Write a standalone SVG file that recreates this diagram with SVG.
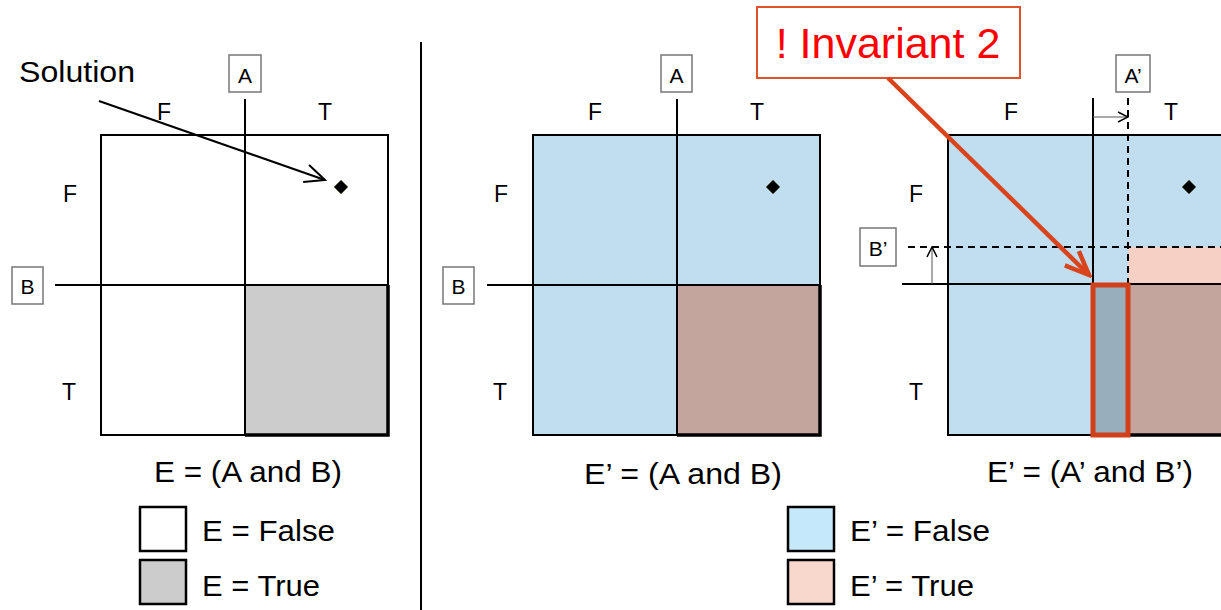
<svg xmlns="http://www.w3.org/2000/svg" width="1221" height="610" viewBox="0 0 1221 610">
<style>
text{font-family:"Liberation Sans",Arial,sans-serif;fill:#000}
.lab{font-size:23px;text-anchor:middle}
.box{font-size:21px;text-anchor:middle}
.cap{font-size:30px}
.leg{font-size:29px}
.ln{stroke:#000;stroke-width:2}
.dash{stroke:#000;stroke-width:2;fill:none;stroke-dasharray:7,5}
.vbox{fill:#fff;stroke:#777;stroke-width:1.5}
.thick{stroke:#000;stroke-width:3.5;fill:none}
</style>
<defs>
<marker id="open" viewBox="0 0 12 12" refX="11" refY="6" markerWidth="12" markerHeight="12" markerUnits="userSpaceOnUse" orient="auto"><path d="M1,1 L11,6 L1,11" fill="none" stroke="#000" stroke-width="1.5"/></marker>
<marker id="big" viewBox="0 0 24 24" refX="22" refY="12" markerWidth="24" markerHeight="24" markerUnits="userSpaceOnUse" orient="auto"><path d="M2,3 L22,12 L2,21" fill="none" stroke="#000" stroke-width="2"/></marker>
<marker id="red" viewBox="0 0 30 30" refX="27" refY="15" markerWidth="30" markerHeight="30" markerUnits="userSpaceOnUse" orient="auto"><path d="M3,5 L27,15 L3,25" fill="none" stroke="#D9441C" stroke-width="4.5" stroke-linejoin="miter"/></marker>
<g id="diamond"><path d="M0,-7 L7,0 L0,7 L-7,0 Z" fill="#000" stroke="#556B2F" stroke-width="0.5"/></g>
</defs>

<!-- divider -->
<line x1="421" y1="42" x2="421" y2="610" stroke="#000" stroke-width="2"/>

<!-- LEFT PANEL -->
<g id="left-map">
<rect x="101" y="135" width="287" height="300" style="fill:#fff" class="ln"/>
<rect x="245" y="285" width="143" height="150" fill="#CCCCCC" stroke="#000" stroke-width="1.5"/>
<path d="M388,285 V435 H245" class="thick"/>
<line x1="245" y1="99" x2="245" y2="435" class="ln"/>
<line x1="55" y1="285" x2="388" y2="285" class="ln"/>
<use href="#diamond" x="341" y="187"/>
<text x="164" y="120" class="lab">F</text>
<text x="325" y="120" class="lab">T</text>
<text x="70" y="202" class="lab">F</text>
<text x="69" y="400" class="lab">T</text>
</g>
<g id="left-A"><rect x="229" y="55" width="32" height="37" class="vbox"/><text x="245" y="83" class="box">A</text></g>
<g id="left-B"><rect x="12" y="267" width="31" height="37" class="vbox"/><text x="27.5" y="294" class="box">B</text></g>
<g id="solution"><text x="19" y="82" style="font-size:30px" textLength="116" lengthAdjust="spacingAndGlyphs">Solution</text></g>
<g id="left-caption"><text x="154" y="482" class="cap" textLength="188" lengthAdjust="spacingAndGlyphs">E = (A and B)</text></g>
<g id="legend-left">
<rect x="140" y="507" width="46" height="44" fill="#fff" stroke="#000" stroke-width="2.5"/>
<rect x="140" y="560" width="46" height="44" fill="#CCCCCC" stroke="#000" stroke-width="2.5"/>
<text x="202" y="541" class="leg" textLength="133" lengthAdjust="spacingAndGlyphs">E = False</text>
<text x="202" y="596" class="leg" textLength="118" lengthAdjust="spacingAndGlyphs">E = True</text>
</g>

<!-- MIDDLE PANEL -->
<g id="mid-map">
<rect x="533" y="135" width="287" height="300" style="fill:#C0DEEF" class="ln"/>
<rect x="677" y="285" width="143" height="150" fill="#C3A59E" stroke="#000" stroke-width="1.5"/>
<path d="M820,285 V435 H677" class="thick"/>
<line x1="677" y1="99" x2="677" y2="435" class="ln"/>
<line x1="487" y1="285" x2="820" y2="285" class="ln"/>
<use href="#diamond" x="773" y="187"/>
<text x="595" y="120" class="lab">F</text>
<text x="757" y="120" class="lab">T</text>
<text x="501" y="202" class="lab">F</text>
<text x="500" y="400" class="lab">T</text>
</g>
<g id="mid-A"><rect x="661" y="55" width="31" height="37" class="vbox"/><text x="676.5" y="83" class="box">A</text></g>
<g id="mid-B"><rect x="443" y="267" width="31" height="37" class="vbox"/><text x="458.5" y="294" class="box">B</text></g>
<g id="mid-caption"><text x="584" y="484" class="cap" textLength="198" lengthAdjust="spacingAndGlyphs">E’ = (A and B)</text></g>
<g id="legend-right">
<rect x="788" y="507" width="46" height="44" fill="#C5E8FA" stroke="#000" stroke-width="2.5"/>
<rect x="788" y="560" width="46" height="44" fill="#F8D7CD" stroke="#000" stroke-width="2.5"/>
<text x="850" y="541" class="leg" textLength="140" lengthAdjust="spacingAndGlyphs">E’ = False</text>
<text x="850" y="596" class="leg" textLength="124" lengthAdjust="spacingAndGlyphs">E’ = True</text>
</g>

<!-- RIGHT PANEL -->
<g id="right-map">
<rect x="948" y="135" width="290" height="300" style="fill:#C0DEEF" class="ln"/>
<rect x="1128" y="247" width="100" height="38" fill="#F6D0C5"/>
<rect x="1128" y="285" width="100" height="150" fill="#C3A59E"/>
<rect x="1093" y="285" width="35" height="150" fill="#98AEBD"/>
<path d="M1128,435 H1221" class="thick"/>
<line x1="948" y1="135" x2="1221" y2="135" class="ln"/>
<line x1="1093" y1="98" x2="1093" y2="285" class="ln"/>
<line x1="1128" y1="98" x2="1128" y2="285" class="dash"/>
<line x1="902" y1="284" x2="1221" y2="284" class="ln"/>
<line x1="908" y1="247" x2="1221" y2="247" class="dash"/>
<line x1="1093" y1="117" x2="1128" y2="117" stroke="#555" stroke-width="1" marker-end="url(#open)"/>
<line x1="932" y1="284" x2="932" y2="247" stroke="#555" stroke-width="1" marker-end="url(#open)"/>
<rect x="1093" y="285" width="35" height="150" fill="none" stroke="#D0401A" stroke-width="5"/>
<use href="#diamond" x="1189" y="187"/>
<text x="1011" y="120" class="lab">F</text>
<text x="1171" y="120" class="lab">T</text>
<text x="916" y="202" class="lab">F</text>
<text x="916" y="400" class="lab">T</text>
</g>
<g id="right-A"><rect x="1116" y="55" width="34" height="37" class="vbox"/><text x="1133" y="83" class="box">A’</text></g>
<g id="right-B"><rect x="860" y="228" width="36" height="38" class="vbox"/><text x="878" y="256" class="box">B’</text></g>
<g id="right-caption"><text x="987" y="482" class="cap" textLength="206" lengthAdjust="spacingAndGlyphs">E’ = (A’ and B’)</text></g>

<!-- callout -->
<g id="invariant">
<rect x="757" y="7" width="263" height="71" fill="#fff" stroke="#E0522A" stroke-width="2"/>
<text x="888" y="58" style="font-size:43px;text-anchor:middle;fill:#FF0000">! Invariant 2</text>
</g>

<!-- connectors -->
<g id="connectors">
<line x1="99" y1="101" x2="325" y2="180" stroke="#000" stroke-width="2" marker-end="url(#big)"/>
<line x1="888" y1="78" x2="1089" y2="275" stroke="#D9441C" stroke-width="4.5" marker-end="url(#red)"/>
</g>
</svg>
